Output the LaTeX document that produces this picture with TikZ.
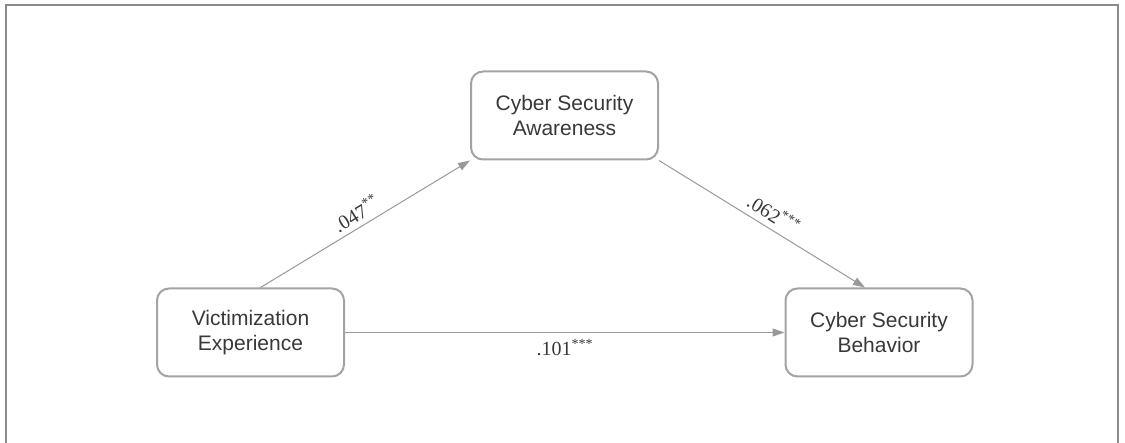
\documentclass[tikz,border=0pt]{standalone}
\usepackage{fontspec}
\setmainfont{Liberation Serif}
\setsansfont{Liberation Sans}
\usetikzlibrary{arrows.meta}
\definecolor{boxgray}{HTML}{A3A3A3}
\definecolor{linegray}{HTML}{999999}
\definecolor{framegray}{HTML}{8A8A8A}
\definecolor{textgray}{HTML}{383838}
\tikzset{
  varbox/.style={draw=boxgray,line width=2pt,rounded corners=12pt,minimum width=187pt,minimum height=88pt,align=center,text=textgray,font=\sffamily\fontsize{21}{25}\selectfont},
  path/.style={draw=linegray,line width=1pt,-{Triangle[length=12pt,width=8pt]}},
  coef/.style={text=textgray,font=\fontsize{20}{22}\selectfont,inner sep=2pt}
}
\begin{document}
\begin{tikzpicture}[x=1pt,y=-1pt]
\useasboundingbox (0,0) rectangle (1125,443);
\draw[framegray,line width=2pt] (5.5,443) -- (5.5,5.5) -- (1117.5,5.5) -- (1117.5,443);
\node[varbox] (aware) at (564.5,115.5){Cyber Security\\Awareness};
\node[varbox] (vict) at (250.5,332.5){Victimization\\Experience};
\node[varbox] (behav) at (879,332.5){Cyber Security\\Behavior};
\draw[path] ([xshift=10pt]vict.north) -- (aware.south west) node[coef,pos=.49,sloped,above=3pt]{.047\textsuperscript{**}};
\draw[path] (aware.south east) -- ([xshift=-14pt]behav.north) node[coef,pos=.52,sloped,above=4pt]{.062\textsuperscript{***}};
\draw[path] (vict.east) -- (behav.west) node[coef,pos=.5,below=4pt]{.101\textsuperscript{***}};
\end{tikzpicture}
\end{document}
